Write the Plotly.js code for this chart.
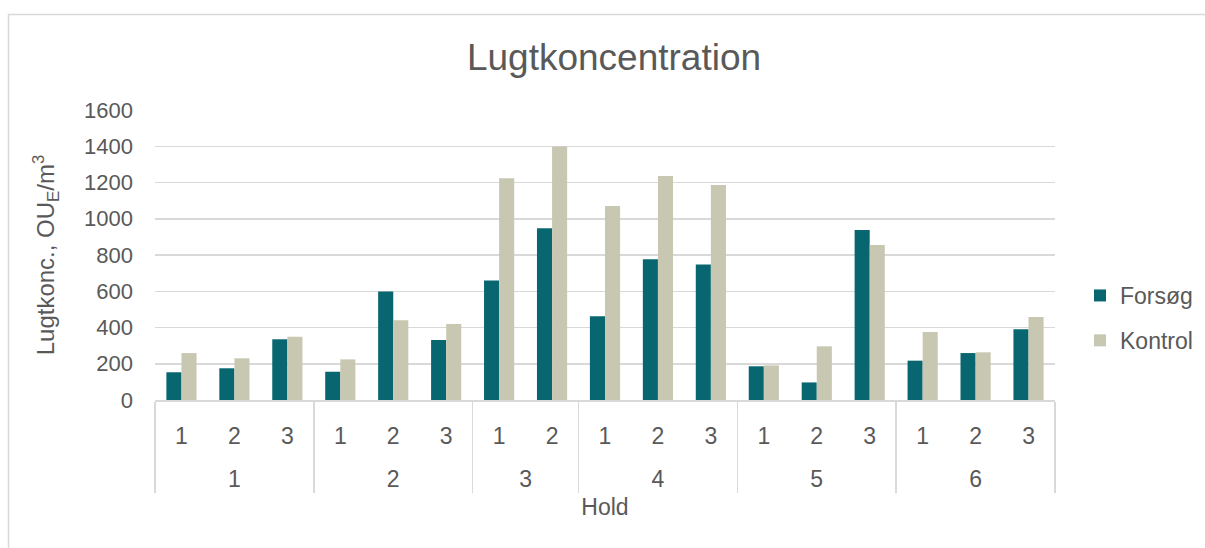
<!DOCTYPE html>
<html>
<head>
<meta charset="utf-8">
<script src="https://cdn.plot.ly/plotly-3.0.1.min.js"></script>
<style>html,body{margin:0;padding:0;background:#fff;}#chart{width:1205px;height:548px;}</style>
</head>
<body>
<div id="chart"></div>
<script>
// Data
const holdGroups = ['1','1','1','2','2','2','3','3','4','4','4','5','5','5','6','6','6'];
const subLabels  = ['1','2','3','1','2','3','1','2','1','2','3','1','2','3','1','2','3'];
const forsog  = [153, 175, 335, 156, 598, 331, 660, 947, 462, 776, 748, 186, 97, 938, 217, 259, 390];
const kontrol = [259, 230, 349, 224, 440, 419, 1223, 1398, 1070, 1236, 1186, 191, 296, 855, 375, 263, 458];

const textColor = '#595959';
const gridColor = '#d9d9d9';
const font = 'Arial, "Liberation Sans", sans-serif';

// group labels shown one line lower (spacing between the two label rows)
const groupCats = holdGroups.map(g => '<br>' + g);

const traces = [
  {type:'bar', name:'Forsøg', x:[groupCats, subLabels], y:forsog,
   marker:{color:'#086670', line:{width:0}}, legendgroup:'a'},
  {type:'bar', name:'Kontrol', x:[groupCats, subLabels], y:kontrol,
   marker:{color:'#c8c7b2', line:{width:0}}, legendgroup:'b'}
];

const L = 155, R = 150, T = 110, B = 148, W = 1205, H = 548;
const pw = W - L - R, ph = H - T - B;
function px2x(p){ return (p - L) / pw; }
function py2y(p){ return (H - B - p) / ph; }

const layout = {
  width: W, height: H,
  margin: {l:L, r:R, t:T, b:B, pad:0, autoexpand:false},
  paper_bgcolor:'#ffffff', plot_bgcolor:'#ffffff',
  font: {family: font, color: textColor, size: 22},
  title: {text:'Lugtkoncentration', font:{size:37, color:textColor, family:font},
          x:614/W, xref:'container', xanchor:'center', y:1 - 57/H, yref:'container', yanchor:'middle'},
  barmode:'group', bargap:0.43, bargroupgap:0,
  xaxis: {
    type:'multicategory',
    showgrid:false, showline:true, linecolor:gridColor, linewidth:1.5,
    ticks:'', ticklabelstandoff:15,
    showdividers:true, dividercolor:gridColor, dividerwidth:1.5,
    tickfont:{size:23, color:textColor},
    title:{text:'Hold', font:{size:23, color:textColor}, standoff:8},
    zeroline:false
  },
  yaxis: {
    range:[0,1600], dtick:200, tick0:0,
    showgrid:true, gridcolor:gridColor, gridwidth:1.5,
    zeroline:false, showline:false, ticks:'',
    ticklabelstandoff:21,
    tickfont:{size:22, color:textColor},
    title:{text:'Lugtkonc., OU<sub>E</sub>/m<sup>3</sup>', font:{size:24, color:textColor}, standoff:22}
  },
  legend: {
    x: px2x(1080), xanchor:'left', y: py2y(318), yanchor:'middle',
    font:{size:23, color:textColor}, traceorder:'grouped', tracegroupgap:12,
    itemwidth:30, bgcolor:'rgba(0,0,0,0)'
  },
  showlegend:true,
  shapes: [
    {type:'rect', xref:'paper', yref:'paper',
     x0: px2x(8.5), x1: px2x(1230), y0: py2y(580), y1: py2y(14.5),
     line:{color:gridColor, width:1.5}, fillcolor:'rgba(0,0,0,0)', layer:'below'}
  ]
};

Plotly.newPlot('chart', traces, layout, {displayModeBar:false, staticPlot:true});
</script>
</body>
</html>
